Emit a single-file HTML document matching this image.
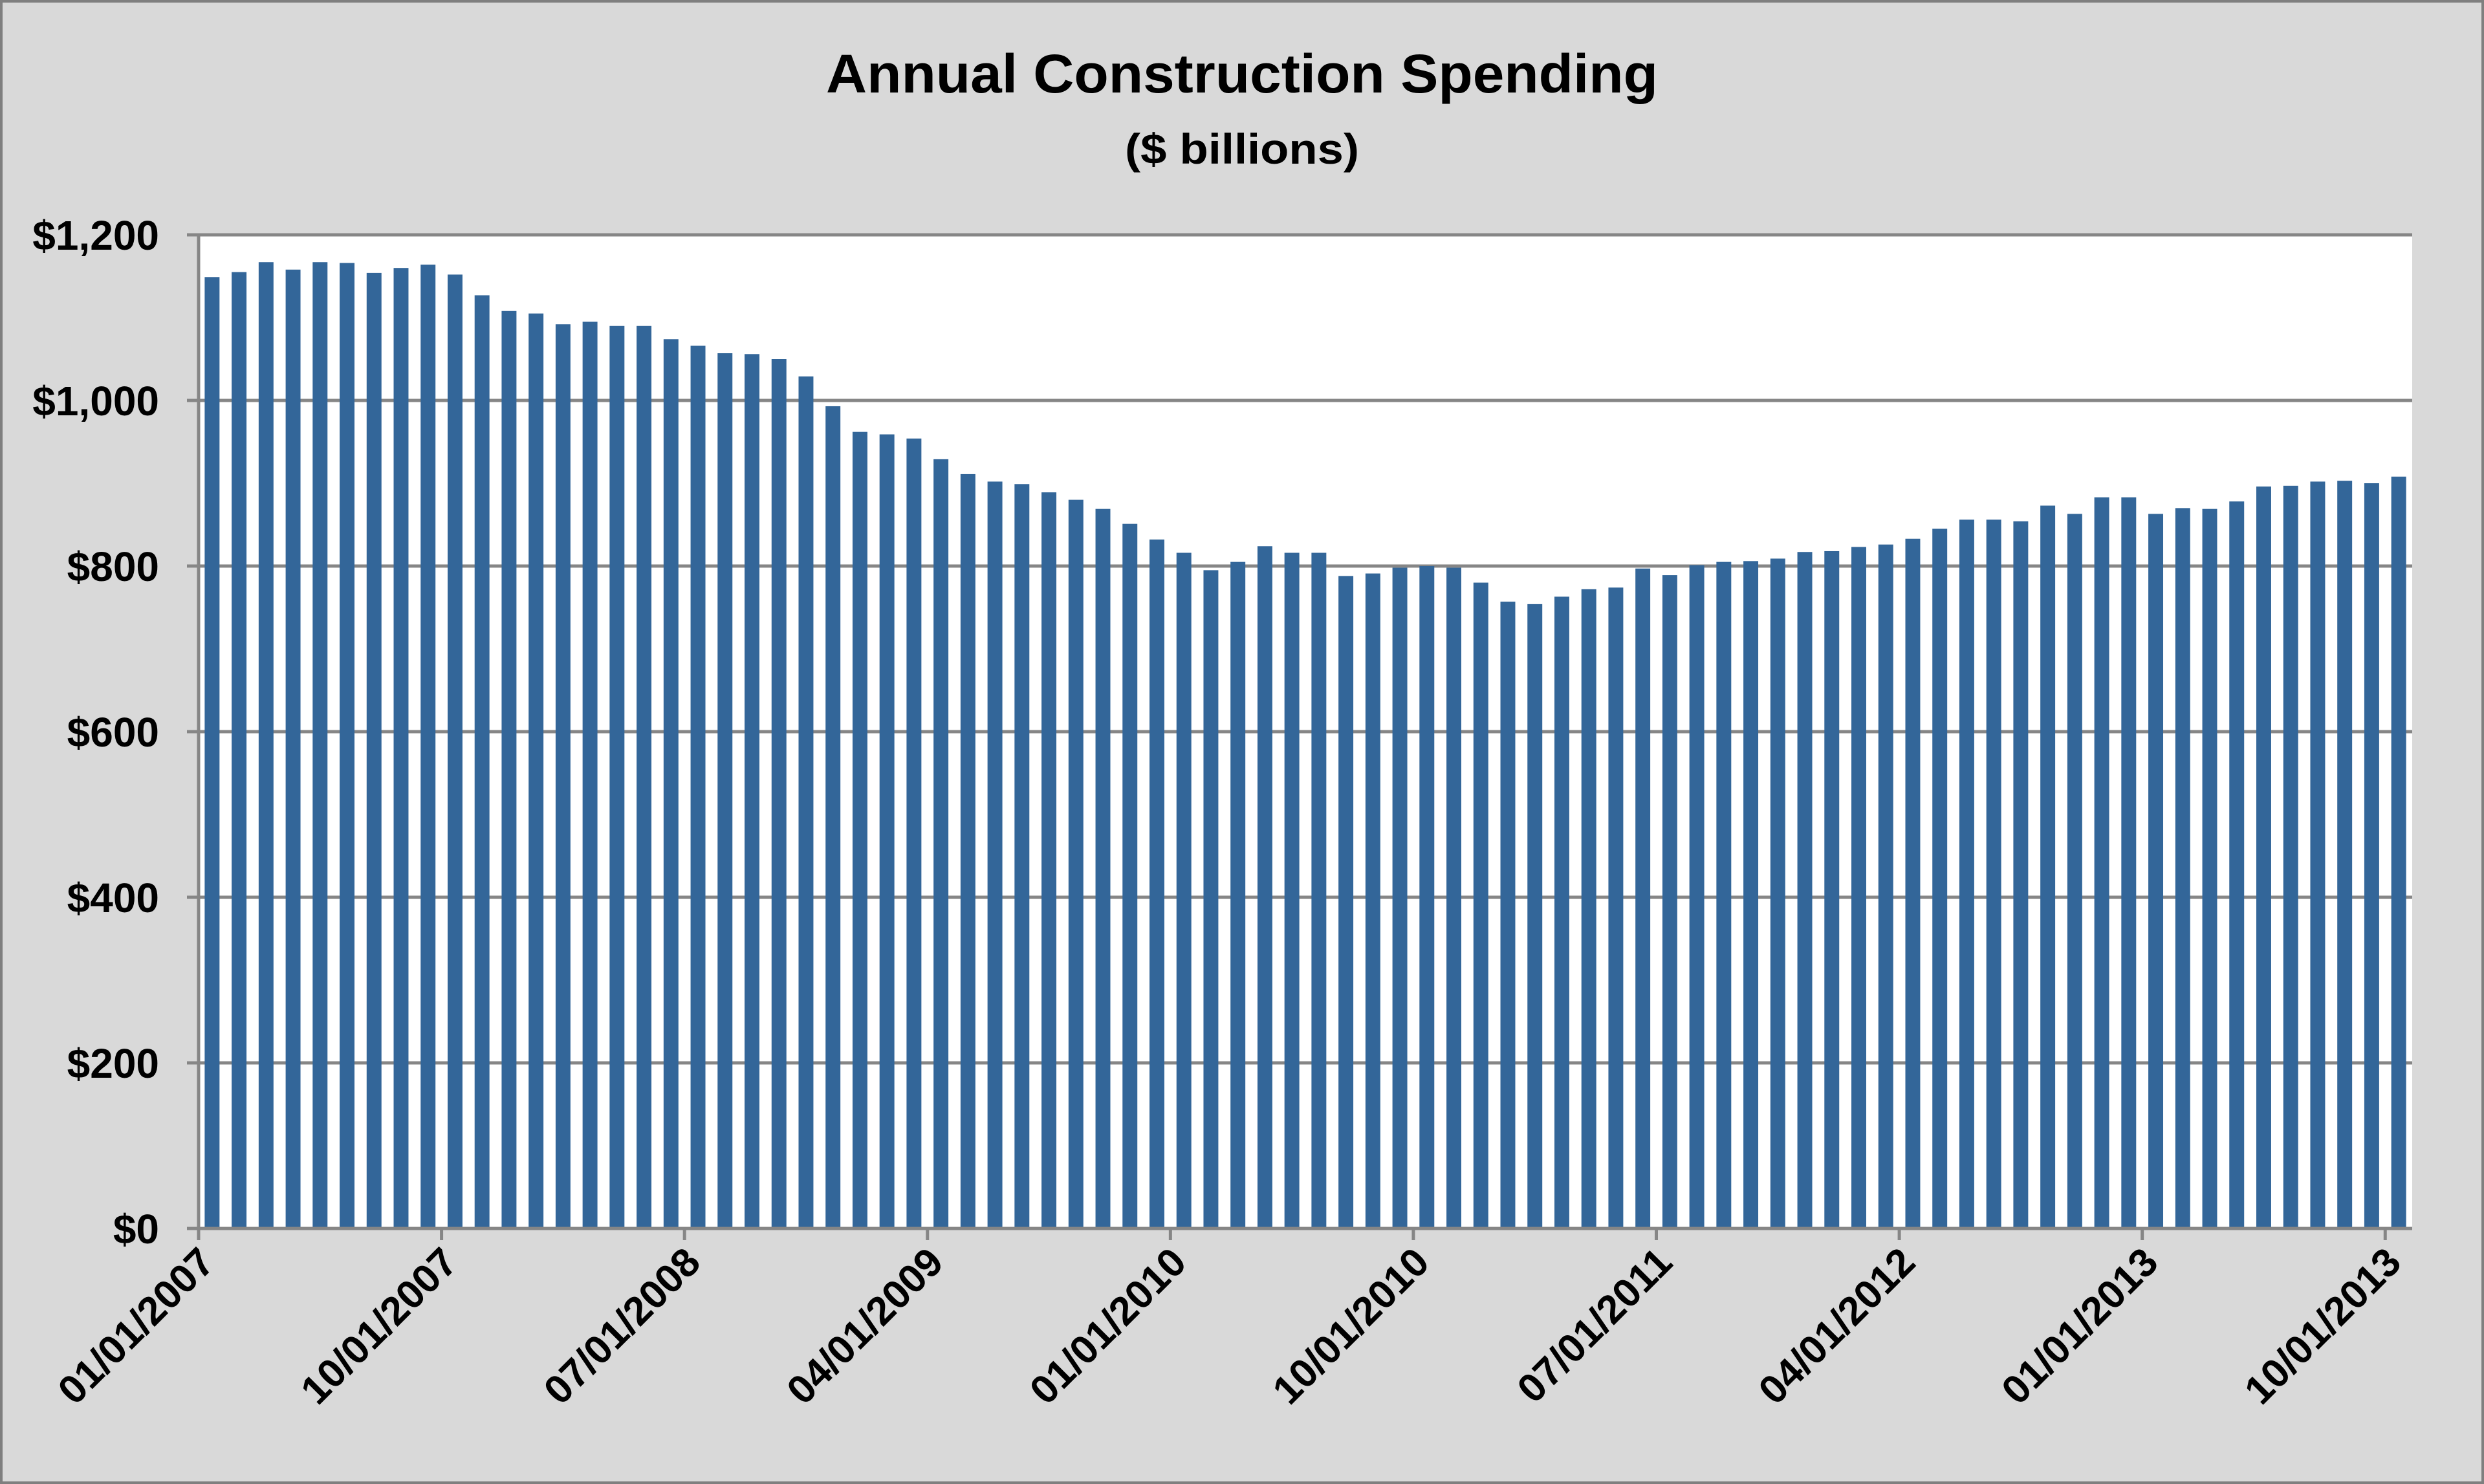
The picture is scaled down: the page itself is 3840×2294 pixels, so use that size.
<!DOCTYPE html>
<html><head><meta charset="utf-8"><style>
html,body{margin:0;padding:0;background:#d9d9d9;}
svg{display:block;}
text{font-family:"Liberation Sans",Arial,sans-serif;font-weight:bold;fill:#000;}
</style></head><body>
<svg id="chart" width="3840" height="2294" viewBox="0 0 3840 2294" xmlns="http://www.w3.org/2000/svg">
<rect x="2" y="2" width="3836" height="2290" fill="#d9d9d9" stroke="#7f7f7f" stroke-width="4"/>
<text x="1920" y="143" font-size="84" text-anchor="middle" textLength="1286" lengthAdjust="spacingAndGlyphs">Annual Construction Spending</text>
<text x="1920" y="253" font-size="66" text-anchor="middle" textLength="362" lengthAdjust="spacingAndGlyphs">($ billions)</text>
<rect x="307" y="363" width="3422" height="1536" fill="#ffffff"/>
<g id="grid"></g><g id="bars"></g><g id="axes"></g>
</svg>
<script>
const categoryStart = "01/2007";
const values = [1149,1155,1167,1158,1167,1166,1154,1160,1164,1152,1127,1108,1105,1092,1095,1090,1090,1074,1066,1057,1056,1050,1029,993,962,959,954,929,
911,902,899,889,880,869,851,832,816,795,805,824,816,816,788,791,798,800,798,780,757,754,763,772,774,797,789,801,
805,806,809,817,818,823,826,833,845,856,856,854,873,863,883,883,863,870,869,878,896,897,902,903,900,908];
const yTicks = [0,200,400,600,800,1000,1200];
const yTickLabels = ["$0","$200","$400","$600","$800","$1,000","$1,200"];
const xTickIdx = [0,9,18,27,36,45,54,63,72,81];
const xTickLabels = ["01/01/2007","10/01/2007","07/01/2008","04/01/2009","01/01/2010","10/01/2010","07/01/2011","04/01/2012","01/01/2013","10/01/2013"];

const NS="http://www.w3.org/2000/svg";
const X0=307,X1=3729,Y0=1899,Y1=363,YMAX=1200;
const n=values.length, cw=(X1-X0)/n, bw=cw*0.55;
const y=v=>Y0-(v/YMAX)*(Y0-Y1);
const xb=i=>X0+i*cw;
function mk(tag,attrs,parent){const e=document.createElementNS(NS,tag);for(const k in attrs)e.setAttribute(k,attrs[k]);parent.appendChild(e);return e;}
const grid=document.getElementById('grid'),bars=document.getElementById('bars'),axes=document.getElementById('axes');
yTicks.forEach((t,i)=>{
  if(t>0){const l=mk('line',{x1:X0,x2:X1,y1:y(t),y2:y(t),stroke:'#868686','stroke-width':5},grid);
  
  }
  const tk=mk('line',{x1:X0-18,x2:X0,y1:y(t),y2:y(t),stroke:'#868686','stroke-width':5},axes);
  
  
  const tx=mk('text',{x:246,y:y(t)+23,'font-size':64,'text-anchor':'end'},axes);
  tx.textContent=yTickLabels[i];
  
  
});
values.forEach((v,i)=>{
  const r=mk('rect',{x:xb(i)+(cw-bw)/2,y:y(v),width:bw,height:Y0-y(v),fill:'#336699'},bars);
  
  
});
const ya=mk('line',{x1:X0,x2:X0,y1:Y1,y2:Y0+2,stroke:'#868686','stroke-width':5},axes);


const xa=mk('line',{x1:X0-18,x2:X1,y1:Y0,y2:Y0,stroke:'#868686','stroke-width':5},axes);


xTickIdx.forEach((idx,i)=>{
  const px=xb(idx);
  const tk=mk('line',{x1:px,x2:px,y1:Y0,y2:Y0+18,stroke:'#868686','stroke-width':5},axes);
  
  
  const ax=px+28, ay=Y0+56;
  const tx=mk('text',{x:ax,y:ay,'font-size':62,'text-anchor':'end',transform:'rotate(-45 '+ax+' '+ay+')'},axes);
  tx.textContent=xTickLabels[i];
  
  
});
</script>
</body></html>
